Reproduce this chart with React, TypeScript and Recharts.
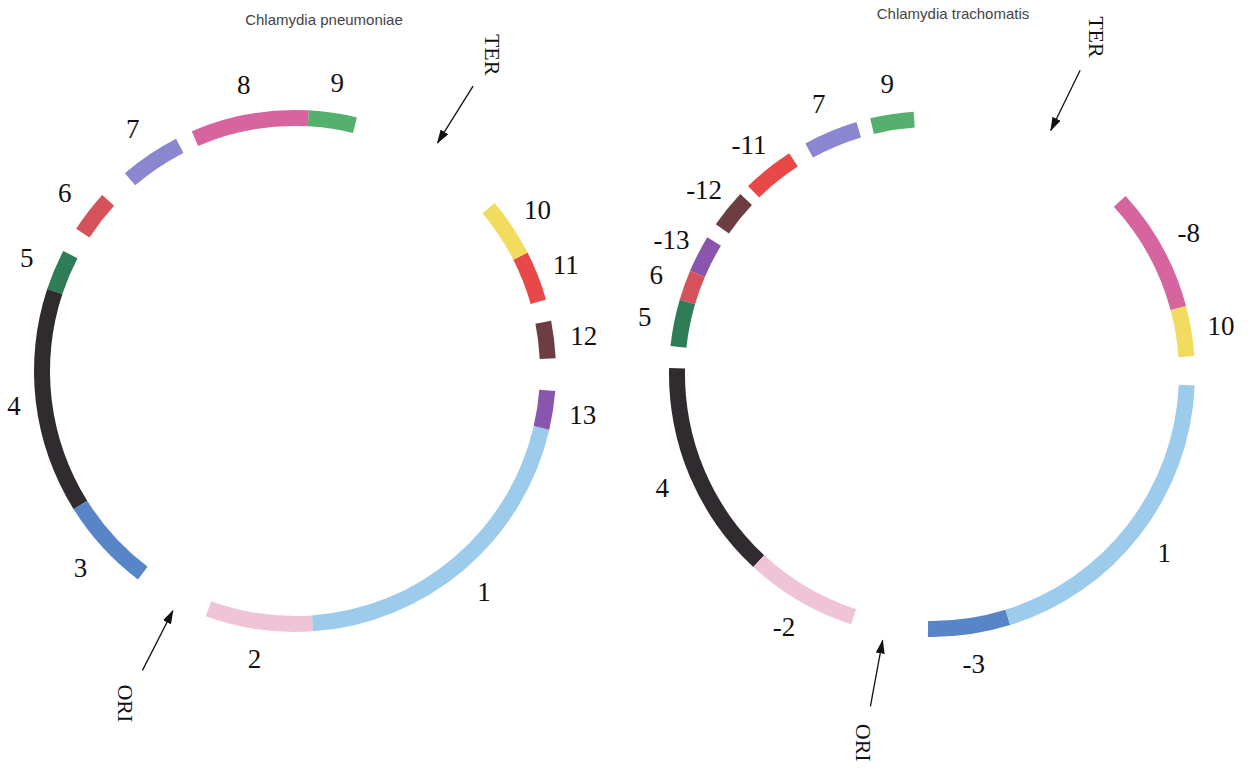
import React from 'react';
import { PieChart, Pie, Cell, Customized } from 'recharts';

// arc spans (degrees) counter-clockwise from the ORI gap; '' = gap
const pneumoniaeBlocks = ['', '2', '1', '13', '', '12', '', '11', '10', '', '9', '8', '', '7', '', '6', '', '5', '4', '3'];
const pneumoniaeSpans = [17, 24, 73, 8.6, 7.2, 8.3, 4.8, 11.1, 13.1, 36.2, 10.7, 26.3, 3.8, 13.6, 6.9, 9.4, 5.6, 9.1, 50.3, 21];

const trachomatisBlocks = ['', '-3', '1', '', '10', '-8', '', '9', '', '7', '', '-11', '', '-12', '', '-13', '6', '5', '', '4', '-2'];
const trachomatisSpans = [17, 18.2, 70.2, 6.4, 11.1, 27.6, 51.4, 9.6, 3.1, 12.1, 4.1, 11.5, 2.4, 8.5, 3.4, 8.2, 6.7, 10.3, 4.8, 48.5, 24.9];

// angle of the ORI / TER arrows
const pneumoniaeMarkers = [{ name: 'TER', angle: 58 }, { name: 'ORI', angle: 243 }];
const trachomatisMarkers = [{ name: 'TER', angle: 64 }, { name: 'ORI', angle: 259.5 }];

const blockColors: Record<string, string> = {
  '1': '#9dcbeb',
  '2': '#efc4d6',
  '3': '#5884c8',
  '4': '#2f2b2f',
  '5': '#2f7d57',
  '6': '#d6525a',
  '7': '#8a86d0',
  '8': '#d6649f',
  '9': '#55b06f',
  '10': '#f2dc60',
  '11': '#e84848',
  '12': '#6e3d42',
  '13': '#8a55ad',
};

const W = 1256;
const H = 776;
const left = { cx: 295, cy: 371, r: 253, start: 233, title: 'Chlamydia pneumoniae', titleX: 324, titleY: 19 };
const right = { cx: 932, cy: 374, r: 255, start: 252.1, title: 'Chlamydia trachomatis', titleX: 953, titleY: 13 };

const serif = '"Liberation Serif", "DejaVu Serif", serif';

const polar = (cx: number, cy: number, r: number, deg: number) => {
  const a = (deg * Math.PI) / 180;
  return { x: cx + r * Math.cos(a), y: cy - r * Math.sin(a) };
};

const makeLabel = (c: typeof left) => (props: any) => {
  const name = props.payload?.block ?? props.name;
  if (!name) return null;
  const p = polar(c.cx, c.cy, c.r + 38, props.midAngle);
  // keep the far-left label inside the page
  const x = Math.max(p.x, 14);
  return (
    <text x={x} y={p.y} textAnchor="middle" dominantBaseline="central" fontFamily={serif} fontSize={27} fill="#111">
      {name}
    </text>
  );
};

const Annotations = () => {
  const groups = [
    { c: left, markers: pneumoniaeMarkers },
    { c: right, markers: trachomatisMarkers },
  ];
  return (
    <g>
      <defs>
        <marker id="arrowhead" markerWidth="14" markerHeight="9" refX="13" refY="4.5" orient="auto" markerUnits="userSpaceOnUse">
          <path d="M0,0 L14,4.5 L0,9 z" fill="#111" />
        </marker>
      </defs>
      {groups.map(({ c, markers }) => (
        <g key={c.title}>
          <text x={c.titleX} y={c.titleY} textAnchor="middle" dominantBaseline="central" fontFamily='"Liberation Sans", Arial, sans-serif' fontSize={15} fill="#444">
            {c.title}
          </text>
          {markers.map((m) => {
            const tail = polar(c.cx, c.cy, c.r + 83, m.angle);
            const tip = polar(c.cx, c.cy, c.r + 16, m.angle);
            const t = polar(c.cx, c.cy, c.r + 120, m.angle);
            return (
              <g key={m.name}>
                <line x1={tail.x} y1={tail.y} x2={tip.x} y2={tip.y} stroke="#111" strokeWidth={1.3} markerEnd="url(#arrowhead)" />
                <text
                  x={t.x}
                  y={t.y}
                  textAnchor="middle"
                  dominantBaseline="central"
                  fontFamily={serif}
                  fontSize={22}
                  fill="#111"
                  transform={`rotate(90 ${t.x} ${t.y})`}
                >
                  {m.name}
                </text>
              </g>
            );
          })}
        </g>
      ))}
    </g>
  );
};

const pneumoniaeData = pneumoniaeBlocks.map((block, i) => ({ block, span: pneumoniaeSpans[i] }));
const trachomatisData = trachomatisBlocks.map((block, i) => ({ block, span: trachomatisSpans[i] }));

const colorOf = (block: string) => (block ? blockColors[block.replace('-', '')] : 'transparent');

export default function App() {
  return (
    <div style={{ position: 'absolute', left: 0, top: 0, width: W, height: H, background: '#fff' }}>
      <PieChart width={W} height={H} margin={{ top: 0, right: 0, bottom: 0, left: 0 }}>
        {[
          { c: left, data: pneumoniaeData },
          { c: right, data: trachomatisData },
        ].map(({ c, data }) => (
          <Pie
            key={c.title}
            data={data}
            dataKey="span"
            nameKey="block"
            cx={c.cx}
            cy={c.cy}
            innerRadius={c.r - 8}
            outerRadius={c.r + 8}
            startAngle={c.start}
            endAngle={c.start + 360}
            stroke="none"
            labelLine={false}
            label={makeLabel(c)}
            isAnimationActive={false}
          >
            {data.map((d, i) => (
              <Cell key={i} fill={colorOf(d.block)} />
            ))}
          </Pie>
        ))}
        <Customized component={Annotations} />
      </PieChart>
    </div>
  );
}
